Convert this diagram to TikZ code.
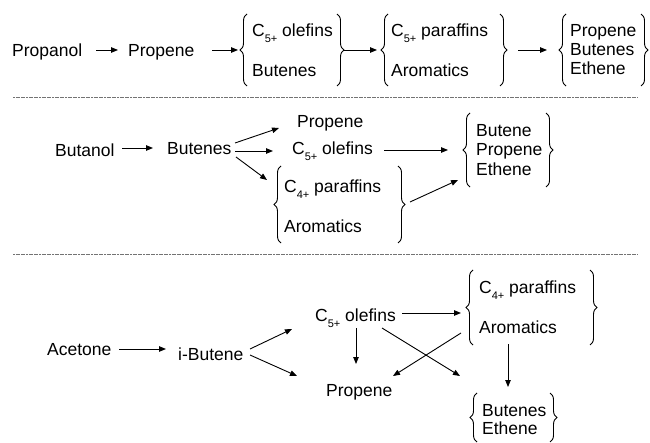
\documentclass[tikz,border=0pt]{standalone}
\usepackage{fontspec}
\setmainfont{Liberation Sans}
\usetikzlibrary{arrows.meta,decorations.pathreplacing}
\newcommand\subsc[1]{\raisebox{-0.3em}{\fontsize{11}{11}\selectfont #1}}
\begin{document}
\begin{tikzpicture}[x=1pt,y=-1pt,
  lbl/.style={anchor=base west,inner sep=0pt,font=\fontsize{17.5}{20}\selectfont},
  arr/.style={-{Triangle[length=7pt,width=5.5pt]},line width=0.9pt},
  brc/.style={decorate,decoration={brace,amplitude=7pt},line width=0.9pt},
  sepline/.style={line width=1pt,black!55,dash pattern=on 2pt off 0.6pt}]
\path[use as bounding box] (0,0) rectangle (650,443);

% ---------------- Row 1 ----------------
\node[lbl] (propanol) at (12,57) {Propanol};
\node[lbl] (propeneA) at (128,57) {Propene};
\node[lbl] (olefA) at (252,37) {C\subsc{5+} olefins};
\node[lbl] (butA) at (252,77) {Butenes};
\node[lbl] (parA) at (391,37) {C\subsc{5+} paraffins};
\node[lbl] (aroA) at (391,77) {Aromatics};
\node[lbl] (prA2) at (570,37) {Propene};
\node[lbl] (buA2) at (570,56) {Butenes};
\node[lbl] (etA2) at (570,75) {Ethene};

\coordinate (a1s) at (96,50);  \coordinate (a1e) at (118,50);
\coordinate (a2s) at (212,50); \coordinate (a2e) at (238,50);
\coordinate (a3s) at (344,50); \coordinate (a3e) at (377,50);
\coordinate (a4s) at (518,50); \coordinate (a4e) at (547,50);
\draw[arr] (a1s) -- (a1e);
\draw[arr] (a2s) -- (a2e);
\draw[arr] (a3s) -- (a3e);
\draw[arr] (a4s) -- (a4e);

\coordinate (bA1b) at (247,86); \coordinate (bA1t) at (247,14);
\coordinate (bA2t) at (337,14); \coordinate (bA2b) at (337,86);
\coordinate (bA3b) at (388,86); \coordinate (bA3t) at (388,14);
\coordinate (bA4t) at (500,14); \coordinate (bA4b) at (500,86);
\coordinate (bA5b) at (566,86); \coordinate (bA5t) at (566,14);
\coordinate (bA6t) at (641,14); \coordinate (bA6b) at (641,86);
\draw[brc] (bA1b) -- (bA1t);
\draw[brc] (bA2t) -- (bA2b);
\draw[brc] (bA3b) -- (bA3t);
\draw[brc] (bA4t) -- (bA4b);
\draw[brc] (bA5b) -- (bA5t);
\draw[brc] (bA6t) -- (bA6b);

\coordinate (s1l) at (13,98); \coordinate (s1r) at (638,98);
\draw[sepline] (s1l) -- (s1r);

% ---------------- Row 2 ----------------
\node[lbl] (butanol) at (55,157) {Butanol};
\node[lbl] (butB) at (167,155) {Butenes};
\node[lbl] (prB) at (297,128) {Propene};
\node[lbl] (olefB) at (292,155) {C\subsc{5+} olefins};
\node[lbl] (parB) at (284,193) {C\subsc{4+} paraffins};
\node[lbl] (aroB) at (284,233) {Aromatics};
\node[lbl] (buB2) at (476,137) {Butene};
\node[lbl] (prB2) at (476,156) {Propene};
\node[lbl] (etB2) at (476,176) {Ethene};

\coordinate (b1s) at (122,148); \coordinate (b1e) at (153,148);
\coordinate (b2s) at (235,143); \coordinate (b2e) at (279,128);
\coordinate (b3s) at (235,151); \coordinate (b3e) at (273,151);
\coordinate (b4s) at (236,157); \coordinate (b4e) at (267,180);
\coordinate (b5s) at (384,150); \coordinate (b5e) at (448,150);
\coordinate (b6s) at (410,202); \coordinate (b6e) at (458,180);
\draw[arr] (b1s) -- (b1e);
\draw[arr] (b2s) -- (b2e);
\draw[arr] (b3s) -- (b3e);
\draw[arr] (b4s) -- (b4e);
\draw[arr] (b5s) -- (b5e);
\draw[arr] (b6s) -- (b6e);

\coordinate (bB1b) at (281,243); \coordinate (bB1t) at (281,166);
\coordinate (bB2t) at (398,166); \coordinate (bB2b) at (398,243);
\coordinate (bB3b) at (470,187); \coordinate (bB3t) at (470,113);
\coordinate (bB4t) at (546,113); \coordinate (bB4b) at (546,187);
\draw[brc] (bB1b) -- (bB1t);
\draw[brc] (bB2t) -- (bB2b);
\draw[brc] (bB3b) -- (bB3t);
\draw[brc] (bB4t) -- (bB4b);

\coordinate (s2l) at (13,255); \coordinate (s2r) at (638,255);
\draw[sepline] (s2l) -- (s2r);

% ---------------- Row 3 ----------------
\node[lbl] (acetone) at (47,355) {Acetone};
\node[lbl] (ibut) at (178,360) {i-Butene};
\node[lbl] (olefC) at (315,322) {C\subsc{5+} olefins};
\node[lbl] (prC) at (326,396) {Propene};
\node[lbl] (parC) at (479,294) {C\subsc{4+} paraffins};
\node[lbl] (aroC) at (479,334) {Aromatics};
\node[lbl] (buC2) at (482,416) {Butenes};
\node[lbl] (etC2) at (482,434) {Ethene};

\coordinate (c1s) at (119,349); \coordinate (c1e) at (166,349);
\coordinate (c2s) at (250,349); \coordinate (c2e) at (292,329);
\coordinate (c3s) at (250,355); \coordinate (c3e) at (297,376);
\coordinate (c4s) at (402,313); \coordinate (c4e) at (461,313);
\coordinate (c5s) at (356,328); \coordinate (c5e) at (356,364);
\coordinate (c6s) at (382,328); \coordinate (c6e) at (460,376);
\coordinate (c7s) at (461,333); \coordinate (c7e) at (393,376);
\coordinate (c8s) at (508,344); \coordinate (c8e) at (508,387);
\draw[arr] (c1s) -- (c1e);
\draw[arr] (c2s) -- (c2e);
\draw[arr] (c3s) -- (c3e);
\draw[arr] (c4s) -- (c4e);
\draw[arr] (c5s) -- (c5e);
\draw[arr] (c6s) -- (c6e);
\draw[arr] (c7s) -- (c7e);
\draw[arr] (c8s) -- (c8e);

\coordinate (bC1b) at (473,345); \coordinate (bC1t) at (473,270);
\coordinate (bC2t) at (590,270); \coordinate (bC2b) at (590,345);
\coordinate (bC3b) at (477,442); \coordinate (bC3t) at (477,393);
\coordinate (bC4t) at (550,393); \coordinate (bC4b) at (550,442);
\draw[brc] (bC1b) -- (bC1t);
\draw[brc] (bC2t) -- (bC2b);
\draw[brc] (bC3b) -- (bC3t);
\draw[brc] (bC4t) -- (bC4b);
\end{tikzpicture}
\end{document}
